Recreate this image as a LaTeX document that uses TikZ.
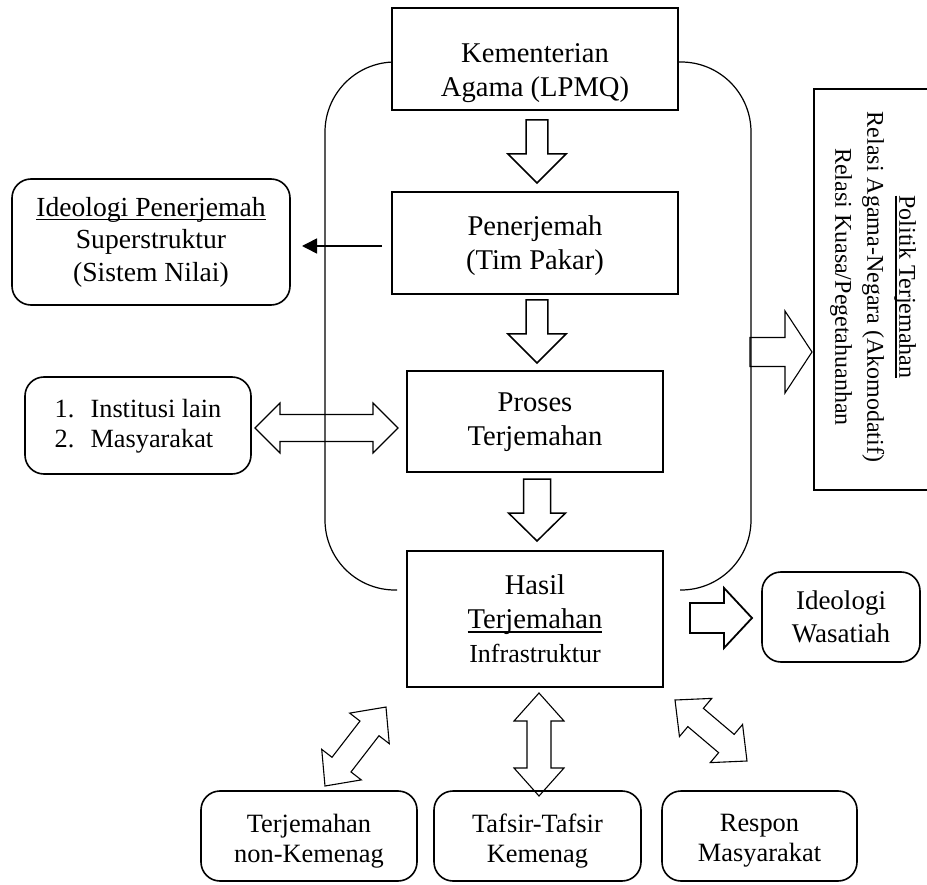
\documentclass[tikz,border=0pt]{standalone}
\usepackage{fontspec}
\setmainfont{Liberation Serif}
\usetikzlibrary{arrows.meta}

% close underline
\newcommand{\myul}[1]{\setbox0\hbox{#1}\makebox[0pt][l]{\rule[-3.8pt]{\wd0}{1.2pt}}\box0}

% hollow single block arrow: #1 style, #2 from, #3 to, #4 shaft half width, #5 head half width, #6 head length
\newcommand{\hollowarrow}[6]{%
  \path (#2); \pgfgetlastxy{\HAax}{\HAay}%
  \path (#3); \pgfgetlastxy{\HAbx}{\HAby}%
  \pgfmathsetmacro{\HAlen}{veclen(\HAbx-\HAax,\HAby-\HAay)}%
  \pgfmathsetmacro{\HAang}{atan2(\HAby-\HAay,\HAbx-\HAax)}%
  \pgfmathsetmacro{\HAneck}{\HAlen-#6}%
  \draw[#1, shift={(#2)}, rotate=\HAang] (0pt,-#4pt) -- (\HAneck pt,-#4pt) -- (\HAneck pt,-#5pt)
     -- (\HAlen pt,0pt) -- (\HAneck pt,#5pt) -- (\HAneck pt,#4pt) -- (0pt,#4pt) -- cycle;
}
% hollow double block arrow
\newcommand{\hollowdarrow}[6]{%
  \path (#2); \pgfgetlastxy{\HAax}{\HAay}%
  \path (#3); \pgfgetlastxy{\HAbx}{\HAby}%
  \pgfmathsetmacro{\HAlen}{veclen(\HAbx-\HAax,\HAby-\HAay)}%
  \pgfmathsetmacro{\HAang}{atan2(\HAby-\HAay,\HAbx-\HAax)}%
  \pgfmathsetmacro{\HAneck}{\HAlen-#6}%
  \draw[#1, shift={(#2)}, rotate=\HAang] (0pt,0pt) -- (#6pt,#5pt) -- (#6pt,#4pt) -- (\HAneck pt,#4pt)
     -- (\HAneck pt,#5pt) -- (\HAlen pt,0pt) -- (\HAneck pt,-#5pt) -- (\HAneck pt,-#4pt)
     -- (#6pt,-#4pt) -- (#6pt,-#5pt) -- cycle;
}

\begin{document}
\begin{tikzpicture}[x=1pt,y=-1pt,
  box/.style={draw, line width=1.6pt, fill=white, inner sep=0pt},
  rbox/.style={draw, line width=1.6pt, fill=white, rounded corners=19pt, inner sep=0pt},
  txt/.style={align=center, inner sep=0pt, font=\fontsize{28.6}{34}\selectfont},
  harrow/.style={draw, line width=1.1pt, line join=miter},
  barrow/.style={draw, line width=1.5pt, line join=miter},
  loopline/.style={draw, line width=1.2pt, rounded corners=70pt}]

\useasboundingbox (0,0) rectangle (927,885);
\fill[white] (0,0) rectangle (927,885);
\clip (0,0) rectangle (927,885);

% enclosing bracket lines
\draw[loopline] (430,62) -- (325,62) -- (325,590) -- (397,590);
\draw[loopline] (640,62) -- (751,62) -- (751,590) -- (680,590);

% main chain boxes
\node[box, minimum width=286pt, minimum height=102pt] (kem) at (535,59) {};
\node[txt] (kemtxt) at (535,73) {Kementerian\\Agama (LPMQ)};

\node[box, minimum width=286pt, minimum height=102pt] (pen) at (535,243) {};
\node[txt] (pentxt) at (535,246) {Penerjemah\\(Tim Pakar)};

\node[box, minimum width=256pt, minimum height=101pt] (pro) at (535,421.5) {};
\node[txt] (protxt) at (535,422) {Proses\\Terjemahan};

\node[box, minimum width=256pt, minimum height=136pt] (has) at (535,619) {};
\node[txt] (hastxt) at (535,619) {Hasil\\\myul{Terjemahan}\\{\fontsize{26}{30}\selectfont Infrastruktur}};

% side boxes
\node[rbox, minimum width=278pt, minimum height=126pt] (ideo) at (151,242) {};
\node[txt, font=\fontsize{27.6}{32.5}\selectfont] (ideotxt) at (151,242) {\myul{Ideologi Penerjemah}\\Superstruktur\\(Sistem Nilai)};

\node[rbox, minimum width=226pt, minimum height=97pt] (inst) at (138,425.5) {};
\node[txt, align=left, font=\fontsize{26.3}{30.5}\selectfont] (insttxt) at (138,426)
  {\makebox[36pt][l]{1.}Institusi lain\\\makebox[36pt][l]{2.}Masyarakat};

\node[box, minimum width=126pt, minimum height=401pt] (pol) at (877,289.5) {};
\node[txt, font=\fontsize{24}{32}\selectfont, rotate=-90] (poltxt) at (873,287)
  {\myul{Politik Terjemahan}\\Relasi Agama-Negara (Akomodatif)\\Relasi Kuasa/Pegetahuanhan};

\node[rbox, minimum width=158pt, minimum height=90pt] (was) at (841,617) {};
\node[txt, font=\fontsize{27}{33}\selectfont] (wastxt) at (841,617) {Ideologi\\Wasatiah};

% bottom boxes
\node[rbox, minimum width=216pt, minimum height=90pt] (b1) at (309,836) {};
\node[txt, font=\fontsize{26.4}{30}\selectfont] (b1txt) at (309,841) {Terjemahan\\non-Kemenag};
\node[rbox, minimum width=207pt, minimum height=90pt] (b2) at (537.5,836) {};
\node[txt, font=\fontsize{26.4}{30}\selectfont] (b2txt) at (537.5,841) {Tafsir-Tafsir\\Kemenag};
\node[rbox, minimum width=195pt, minimum height=90pt] (b3) at (759.5,836) {};
\node[txt, font=\fontsize{26.4}{30}\selectfont] (b3txt) at (759.5,841) {Respon\\Masyarakat};

% connector end points
\coordinate (a1s) at (537,120);  \coordinate (a1e) at (537,183);
\coordinate (a2s) at (537,300);  \coordinate (a2e) at (537,363);
\coordinate (a3s) at (537,479);  \coordinate (a3e) at (537,541);
\coordinate (dhl) at (255,428);  \coordinate (dhr) at (398,428);
\coordinate (rps) at (750,352);  \coordinate (rpe) at (812,352);
\coordinate (wss) at (690,618);  \coordinate (wse) at (752,618);
\coordinate (d1a) at (325,786);  \coordinate (d1b) at (386,707);
\coordinate (d2a) at (539,796);  \coordinate (d2b) at (539,693);
\coordinate (d3a) at (747,761);  \coordinate (d3b) at (675,700);
\coordinate (penL) at (382,246); \coordinate (ideoR) at (302,246);

% connectors
\hollowarrow{barrow}{a1s}{a1e}{10.8}{29}{29}
\hollowarrow{barrow}{a2s}{a2e}{10.8}{29}{29}
\hollowarrow{barrow}{a3s}{a3e}{13.5}{28.5}{28}
\hollowdarrow{harrow}{dhl}{dhr}{13.5}{25}{25}
\hollowarrow{harrow}{rps}{rpe}{14.5}{41}{27}
\hollowarrow{draw, line width=1.8pt, line join=miter}{wss}{wse}{15}{30}{28}
\hollowdarrow{harrow}{d1a}{d1b}{12}{25}{27}
\hollowdarrow{harrow}{d2a}{d2b}{12}{25}{28}
\hollowdarrow{harrow}{d3a}{d3b}{12}{25}{27}

\draw[line width=1.5pt, -{Triangle[length=15pt,width=15pt]}] (penL) -- (ideoR);
\end{tikzpicture}
\end{document}
